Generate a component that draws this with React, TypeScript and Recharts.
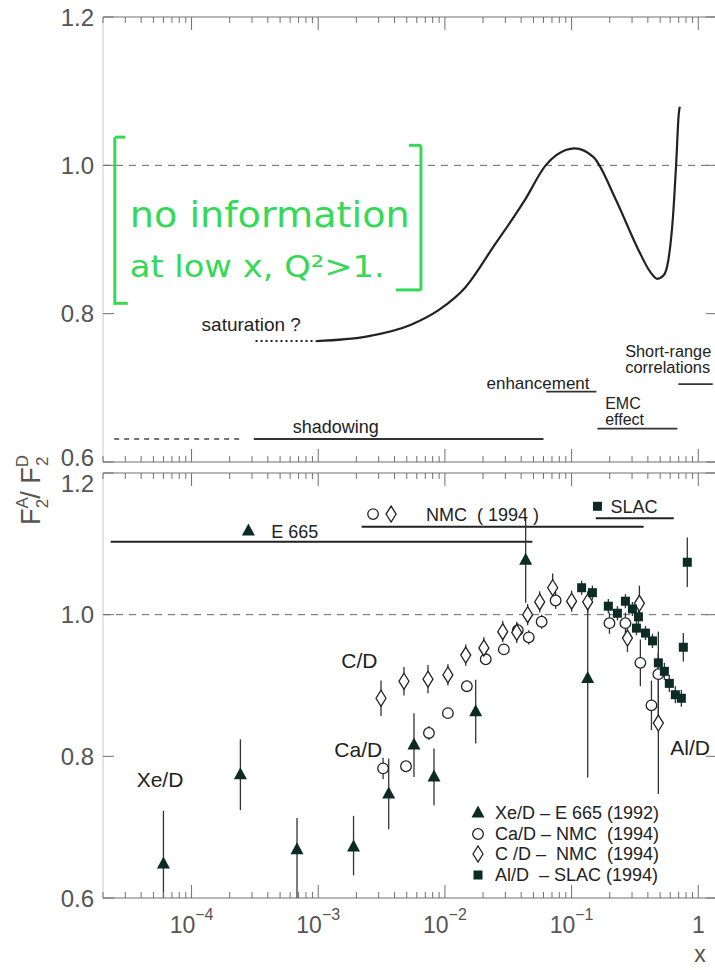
import React from "react";
import {
  ComposedChart,
  Line,
  Scatter,
  XAxis,
  YAxis,
  ReferenceLine,
  ReferenceDot,
  ErrorBar,
  Legend,
  Customized,
} from "recharts";

// ---- axes ----
const X_MIN = 2e-5;
const X_MAX = 1.38;
const Y_DOMAIN: [number, number] = [0.6, 1.2];
const yTicks = [0.6, 0.8, 1.0, 1.2];
const majorTicks = [1e-4, 1e-3, 1e-2, 1e-1, 1];
const majorBase = ["10", "10", "10", "10", "1"];
const majorExp = ["−4", "−3", "−2", "−1", ""];
const decades = [1e-5, 1e-4, 1e-3, 1e-2, 1e-1, 1];
const mantissas = [1, 2, 3, 4, 5, 6, 7, 8, 9];
const logTicks = decades
  .flatMap((d) => mantissas.map((m) => +(m * d).toPrecision(3)))
  .filter((v) => v >= X_MIN && v <= X_MAX);

// ---- top panel: schematic ratio curve ----
const curveX = [9.64e-4, 2.39e-3, 5.4e-3, 8.97e-3, 0.0146, 0.0241, 0.0427, 0.0624, 0.0762, 0.1057, 0.149, 0.2245, 0.337, 0.419, 0.475, 0.535, 0.58, 0.631, 0.668, 0.702, 0.714];
const curveY = [0.763, 0.769, 0.785, 0.805, 0.836, 0.89, 0.953, 1.0, 1.014, 1.023, 1.011, 0.953, 0.886, 0.856, 0.847, 0.852, 0.872, 0.93, 1.0, 1.07, 1.079];
const satX = [3.2e-4, 9.64e-4];
const satY = [0.763, 0.763];

// x regions (from, to, level)
const regionFrom = [3.1e-4, 0.063, 0.16, 0.696];
const regionTo = [0.06, 0.157, 0.684, 1.3];
const regionLevel = [0.631, 0.695, 0.645, 0.705];
const shadowExt = [2.45e-5, 2.57e-4];

// ---- bottom panel: data ----
const xeX = [6.0e-5, 2.43e-4, 6.8e-4, 1.9e-3, 3.6e-3, 5.7e-3, 8.2e-3, 0.0175, 0.0434, 0.134];
const xeY = [0.648, 0.774, 0.668, 0.672, 0.747, 0.816, 0.771, 0.863, 1.077, 0.91];
const xeLo = [0.048, 0.05, 0.068, 0.04, 0.05, 0.045, 0.04, 0.045, 0.06, 0.14];
const xeHi = [0.075, 0.05, 0.045, 0.044, 0.05, 0.045, 0.04, 0.045, 0.06, 0.1];

const caX = [3.25e-3, 4.93e-3, 7.48e-3, 0.01056, 0.0149, 0.021, 0.0292, 0.0376, 0.0459, 0.058, 0.0748, 0.199, 0.266, 0.349, 0.427, 0.484];
const caY = [0.783, 0.786, 0.833, 0.861, 0.899, 0.937, 0.951, 0.978, 0.968, 0.99, 1.02, 0.988, 0.988, 0.932, 0.872, 0.916];
const caErr = [0.015, 0.006, 0.01, 0.008, 0.008, 0.008, 0.008, 0.01, 0.01, 0.01, 0.012, 0.015, 0.015, 0.033, 0.035, 0.06];

const cX = [3.13e-3, 4.75e-3, 7.35e-3, 0.01056, 0.0146, 0.0203, 0.0286, 0.0369, 0.045, 0.056, 0.0709, 0.1, 0.134, 0.276, 0.343, 0.484];
const cY = [0.882, 0.906, 0.909, 0.915, 0.943, 0.953, 0.976, 0.975, 1.0, 1.018, 1.038, 1.019, 1.018, 0.967, 1.016, 0.847];
const cErr = [0.025, 0.02, 0.02, 0.015, 0.015, 0.015, 0.015, 0.015, 0.015, 0.015, 0.02, 0.015, 0.015, 0.02, 0.025, 0.1];

const alX = [0.12, 0.146, 0.195, 0.23, 0.266, 0.302, 0.325, 0.337, 0.383, 0.435, 0.484, 0.54, 0.591, 0.659, 0.735, 0.762, 0.819];
const alY = [1.038, 1.031, 1.012, 1.002, 1.019, 1.008, 0.981, 0.997, 0.974, 0.963, 0.932, 0.92, 0.903, 0.887, 0.882, 0.954, 1.074];
const alErr = [0.01, 0.01, 0.01, 0.01, 0.01, 0.01, 0.01, 0.01, 0.01, 0.01, 0.012, 0.012, 0.012, 0.012, 0.012, 0.02, 0.035];

// experiment coverage bars
const rangeNames = ["E 665", "NMC  ( 1994 )", "SLAC"];
const rangeFrom = [2.3e-5, 2.2e-3, 0.155];
const rangeTo = [0.049, 0.37, 0.64];
const rangeLevel = [1.103, 1.124, 1.136];

const legendRows = [
  { kind: "tri", text: "Xe/D – E 665 (1992)" },
  { kind: "circle", text: "Ca/D – NMC  (1994)" },
  { kind: "diamond", text: "C /D –  NMC  (1994)" },
  { kind: "square", text: "Al/D  – SLAC (1994)" },
];

const pts = (xs: number[], ys: number[]) => xs.map((x, i) => ({ x, y: ys[i] }));
const withErr = (xs: number[], ys: number[], lo: number[], hi: number[]) =>
  xs.map((x, i) => ({ x, y: ys[i], err: [lo[i], hi[i]] }));

const curveData = pts(curveX, curveY);
const satData = pts(satX, satY);
const xeData = withErr(xeX, xeY, xeLo, xeHi);
const caData = withErr(caX, caY, caErr, caErr);
const cData = withErr(cX, cY, cErr, cErr);
const alData = withErr(alX, alY, alErr, alErr);

// ---- look ----
const FONT = '"Liberation Sans", Arial, Helvetica, sans-serif';
const INK = "#222";
const DARK = "#0c2b22";
const AXIS = "#707070";
const LABEL = "#555";
const GREEN = "#36d957";

const W = 730;
const ML = 43;
const YW = 60;
const MR = 13; // + 1px right axis -> plot ends at x=716
const TOP_H = 470;
const BOT_TOP = 420;
const BOT_H = 550;

const isMajor = (v: number) => Math.abs(Math.log10(v) - Math.round(Math.log10(v))) < 1e-6;

function marker(kind: string, cx: number, cy: number) {
  if (kind === "tri")
    return <path d={`M${cx},${cy - 7.5}L${cx + 6.5},${cy + 4.5}L${cx - 6.5},${cy + 4.5}Z`} fill={DARK} />;
  if (kind === "circle")
    return <circle cx={cx} cy={cy} r={5.3} fill="#fff" stroke={INK} strokeWidth={1.3} />;
  if (kind === "diamond")
    return (
      <path
        d={`M${cx},${cy - 8}L${cx + 5},${cy}L${cx},${cy + 8}L${cx - 5},${cy}Z`}
        fill="#fff"
        stroke={INK}
        strokeWidth={1.3}
      />
    );
  return <rect x={cx - 4.5} y={cy - 4.5} width={9} height={9} fill={DARK} />;
}

function XTick(props: any) {
  const { x, y, payload, dir, withLabel } = props;
  const v = payload.value;
  const major = isMajor(v);
  const idx = majorTicks.findIndex((t) => Math.abs(Math.log10(t) - Math.log10(v)) < 1e-6);
  return (
    <g>
      <line x1={x} y1={y} x2={x} y2={y + dir * (major ? 13 : 6)} stroke={AXIS} strokeWidth={1} />
      {withLabel && idx >= 0 && (
        <text x={x} y={y + 35} textAnchor="middle" fill={LABEL} fontFamily={FONT} fontSize={23}>
          <tspan>{majorBase[idx]}</tspan>
          {majorExp[idx] && (
            <tspan dy={-13} fontSize={16}>
              {majorExp[idx]}
            </tspan>
          )}
        </text>
      )}
    </g>
  );
}

function YTick(props: any) {
  const { x, y, payload, side, shift } = props;
  const v: number = payload.value;
  if (side === "right") return <line x1={x} y1={y} x2={x - 10} y2={y} stroke={AXIS} />;
  const dy = (shift && shift[v.toFixed(1)]) || 0;
  return (
    <g>
      <line x1={x} y1={y} x2={x + 11} y2={y} stroke={AXIS} />
      <text x={x - 9} y={y + 8.5 + dy} textAnchor="end" fill={LABEL} fontFamily={FONT} fontSize={24}>
        {v.toFixed(1)}
      </text>
    </g>
  );
}

const textAt = (label: React.ReactNode, size = 18, color = INK, family = FONT, extra: any = {}) =>
  (p: any) => (
    <text x={p.cx} y={p.cy} fontSize={size} fill={color} fontFamily={family} {...extra}>
      {label}
    </text>
  );

const markerAt = (kind: string) => (p: any) => marker(kind, p.cx, p.cy);

function axesFor(dirTop: number, dirBottom: number, labels: boolean, shift: any) {
  return [
    <XAxis
      key="xb"
      dataKey="x"
      type="number"
      scale="log"
      domain={[X_MIN, X_MAX]}
      allowDataOverflow
      ticks={logTicks}
      interval={0}
      height={1}
      tickSize={0}
      tickMargin={0}
      tickLine={false}
      axisLine={{ stroke: AXIS, strokeWidth: 1.2 }}
      tick={(p: any) => <XTick {...p} dir={dirBottom} withLabel={labels} />}
    />,
    <XAxis
      key="xt"
      xAxisId="t"
      orientation="top"
      dataKey="x"
      type="number"
      scale="log"
      domain={[X_MIN, X_MAX]}
      allowDataOverflow
      ticks={logTicks}
      interval={0}
      height={1}
      tickSize={0}
      tickMargin={0}
      tickLine={false}
      axisLine={{ stroke: AXIS, strokeWidth: 1.2 }}
      tick={(p: any) => <XTick {...p} dir={dirTop} withLabel={false} />}
    />,
    <YAxis
      key="yl"
      dataKey="y"
      type="number"
      domain={Y_DOMAIN}
      allowDataOverflow
      ticks={yTicks}
      interval={0}
      width={YW}
      tickSize={0}
      tickMargin={0}
      tickLine={false}
      axisLine={{ stroke: "#c8c8c8" }}
      tick={(p: any) => <YTick {...p} shift={shift} />}
    />,
    <YAxis
      key="yr"
      yAxisId="r"
      orientation="right"
      type="number"
      domain={Y_DOMAIN}
      allowDataOverflow
      ticks={yTicks}
      interval={0}
      width={1}
      tickSize={0}
      tickMargin={0}
      tickLine={false}
      axisLine={{ stroke: "#c8c8c8" }}
      tick={(p: any) => <YTick {...p} side="right" />}
    />,
  ];
}

function LegendBox() {
  return (
    <div style={{ fontFamily: FONT, fontSize: 18, color: INK, lineHeight: "20.5px" }}>
      {legendRows.map((r) => (
        <div key={r.text} style={{ display: "flex", alignItems: "center", whiteSpace: "pre" }}>
          <svg width={32} height={20} style={{ flex: "none" }}>
            {marker(r.kind, 15, 10)}
          </svg>
          <span>{r.text}</span>
        </div>
      ))}
    </div>
  );
}

function AxisTitles() {
  return (
    <g fontFamily={FONT} fill={LABEL}>
      <text transform={`translate(40, ${490 - BOT_TOP}) rotate(-90)`} textAnchor="middle" fontSize={27}>
        <tspan>F</tspan>
        <tspan fontSize={17} dy={-12}>A</tspan>
        <tspan fontSize={17} dx={-11} dy={20}>2</tspan>
        <tspan dy={-8}>/ F</tspan>
        <tspan fontSize={17} dy={-12}>D</tspan>
        <tspan fontSize={17} dx={-11} dy={20}>2</tspan>
      </text>
      <text x={700} y={962 - BOT_TOP} textAnchor="middle" fontSize={23}>
        x
      </text>
    </g>
  );
}

function TopPanel() {
  return (
    <ComposedChart width={W} height={TOP_H} margin={{ top: 16, right: MR, bottom: 7, left: ML }}>
      {axesFor(1, -1, false, { "0.6": -5 })}
      <ReferenceLine y={1} stroke="#666" strokeDasharray="7 6" />

      {/* green handwritten note */}
      <ReferenceLine segment={[{ x: 2.48e-5, y: 1.038 }, { x: 2.48e-5, y: 0.812 }]} stroke={GREEN} strokeWidth={3} />
      <ReferenceLine segment={[{ x: 2.48e-5, y: 1.038 }, { x: 3.0e-5, y: 1.038 }]} stroke={GREEN} strokeWidth={3} />
      <ReferenceLine segment={[{ x: 2.48e-5, y: 0.814 }, { x: 3.14e-5, y: 0.814 }]} stroke={GREEN} strokeWidth={3} />
      <ReferenceLine segment={[{ x: 6.47e-3, y: 1.027 }, { x: 6.47e-3, y: 0.832 }]} stroke={GREEN} strokeWidth={3} />
      <ReferenceLine segment={[{ x: 5.2e-3, y: 1.027 }, { x: 6.47e-3, y: 1.027 }]} stroke={GREEN} strokeWidth={3} />
      <ReferenceLine segment={[{ x: 4.1e-3, y: 0.832 }, { x: 6.47e-3, y: 0.832 }]} stroke={GREEN} strokeWidth={3} />
      <ReferenceDot x={3.25e-5} y={0.917} r={0} shape={textAt("no information", 36, GREEN, '"DejaVu Sans", sans-serif', { textLength: 280, lengthAdjust: "spacingAndGlyphs" })} />
      <ReferenceDot x={3.25e-5} y={0.849} r={0} shape={textAt("at low x, Q²>1.", 30, GREEN, '"DejaVu Sans", sans-serif', { textLength: 255, lengthAdjust: "spacingAndGlyphs" })} />

      {/* regions */}
      <ReferenceLine segment={[{ x: shadowExt[0], y: regionLevel[0] }, { x: shadowExt[1], y: regionLevel[0] }]} stroke="#444" strokeWidth={1.5} strokeDasharray="5 5" />
      {regionFrom.map((f, i) => (
        <ReferenceLine key={i} segment={[{ x: f, y: regionLevel[i] }, { x: regionTo[i], y: regionLevel[i] }]} stroke="#333" strokeWidth={1.8} />
      ))}
      <ReferenceDot x={1.2e-4} y={0.776} r={0} shape={textAt("saturation ?", 19)} />
      <ReferenceDot x={6.3e-4} y={0.639} r={0} shape={textAt("shadowing", 18)} />
      <ReferenceDot x={0.0213} y={0.698} r={0} shape={textAt("enhancement", 17)} />
      <ReferenceDot x={0.184} y={0.672} r={0} shape={textAt("EMC", 16)} />
      <ReferenceDot x={0.184} y={0.65} r={0} shape={textAt("effect", 16)} />
      <ReferenceDot x={0.265} y={0.742} r={0} shape={textAt("Short-range", 16, INK, FONT, { textLength: 86, lengthAdjust: "spacingAndGlyphs" })} />
      <ReferenceDot x={0.265} y={0.72} r={0} shape={textAt("correlations", 16, INK, FONT, { textLength: 85, lengthAdjust: "spacingAndGlyphs" })} />

      <Line data={satData} dataKey="y" stroke={INK} strokeWidth={2} strokeDasharray="2 3" dot={false} isAnimationActive={false} />
      <Line data={curveData} dataKey="y" type="monotone" stroke={INK} strokeWidth={2.2} dot={false} isAnimationActive={false} />
    </ComposedChart>
  );
}

function BottomPanel() {
  return (
    <ComposedChart width={W} height={BOT_H} margin={{ top: 52, right: MR, bottom: 71, left: ML }}>
      {axesFor(1, -1, true, { "1.2": 10 })}
      <ReferenceLine y={1} stroke="#666" strokeDasharray="7 6" />

      {rangeFrom.map((f, i) => (
        <ReferenceLine key={i} segment={[{ x: f, y: rangeLevel[i] }, { x: rangeTo[i], y: rangeLevel[i] }]} stroke={INK} strokeWidth={2} />
      ))}
      <ReferenceDot x={2.81e-4} y={1.118} r={0} shape={markerAt("tri")} />
      <ReferenceDot x={4.26e-4} y={1.108} r={0} shape={textAt(rangeNames[0], 18)} />
      <ReferenceDot x={2.71e-3} y={1.142} r={0} shape={markerAt("circle")} />
      <ReferenceDot x={3.76e-3} y={1.142} r={0} shape={markerAt("diamond")} />
      <ReferenceDot x={7.08e-3} y={1.132} r={0} shape={textAt(<tspan style={{ whiteSpace: "pre" }}>{rangeNames[1]}</tspan>, 18, INK, FONT, { xmlSpace: "preserve" })} />
      <ReferenceDot x={0.16} y={1.153} r={0} shape={markerAt("square")} />
      <ReferenceDot x={0.203} y={1.144} r={0} shape={textAt(rangeNames[2], 18)} />

      <ReferenceDot x={1.52e-3} y={0.925} r={0} shape={textAt("C/D", 21)} />
      <ReferenceDot x={1.34e-3} y={0.799} r={0} shape={textAt("Ca/D", 21)} />
      <ReferenceDot x={3.69e-5} y={0.757} r={0} shape={textAt("Xe/D", 21)} />
      <ReferenceDot x={0.602} y={0.802} r={0} shape={textAt("Al/D", 21)} />

      <Scatter data={xeData} shape={markerAt("tri")} isAnimationActive={false}>
        <ErrorBar dataKey="err" direction="y" width={0} stroke="#333" strokeWidth={1.3} />
      </Scatter>
      <Scatter data={caData} shape={markerAt("circle")} isAnimationActive={false}>
        <ErrorBar dataKey="err" direction="y" width={0} stroke="#333" strokeWidth={1.3} />
      </Scatter>
      <Scatter data={cData} shape={markerAt("diamond")} isAnimationActive={false}>
        <ErrorBar dataKey="err" direction="y" width={0} stroke="#333" strokeWidth={1.3} />
      </Scatter>
      <Scatter data={alData} shape={markerAt("square")} isAnimationActive={false}>
        <ErrorBar dataKey="err" direction="y" width={0} stroke="#333" strokeWidth={1.3} />
      </Scatter>

      <Legend
        content={LegendBox}
        layout="vertical"
        align="center"
        verticalAlign="middle"
        wrapperStyle={{ left: 463, top: 803 - BOT_TOP, width: 250 }}
      />
      <Customized component={AxisTitles} />
    </ComposedChart>
  );
}

export default function App() {
  return (
    <div
      style={{
        position: "absolute",
        left: 0,
        top: 0,
        width: 715,
        height: 970,
        overflow: "hidden",
        background: "#fff",
      }}
    >
      <div style={{ position: "absolute", left: 0, top: 0 }}>
        <TopPanel />
      </div>
      <div style={{ position: "absolute", left: 0, top: BOT_TOP }}>
        <BottomPanel />
      </div>
    </div>
  );
}
